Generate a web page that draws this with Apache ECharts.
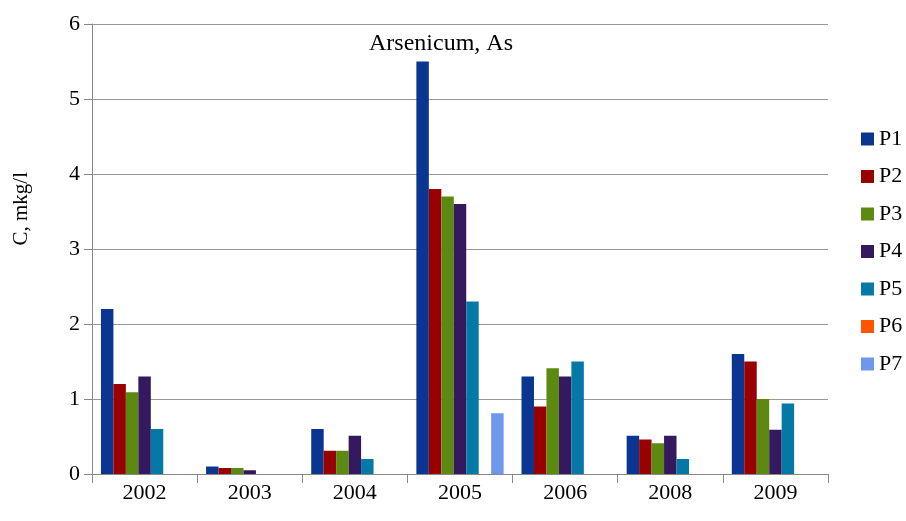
<!DOCTYPE html>
<html>
<head>
<meta charset="utf-8">
<script src="https://cdn.jsdelivr.net/npm/echarts@6/dist/echarts.min.js"></script>
<style>
  html, body { margin: 0; padding: 0; background: #fff; }
  #chart { width: 906px; height: 521px; }
</style>
</head>
<body>
<div id="chart"></div>
<script>
var years = ['2002', '2003', '2004', '2005', '2006', '2008', '2009'];
var seriesNames = ['P1', 'P2', 'P3', 'P4', 'P5', 'P6', 'P7'];
var yTicks = [0, 1, 2, 3, 4, 5, 6];

var p1 = [2.2, 0.1, 0.6, 5.5, 1.3, 0.51, 1.6];
var p2 = [1.2, 0.08, 0.31, 3.8, 0.9, 0.46, 1.5];
var p3 = [1.09, 0.08, 0.31, 3.7, 1.41, 0.41, 1.0];
var p4 = [1.3, 0.05, 0.51, 3.6, 1.3, 0.51, 0.59];
var p5 = [0.6, 0, 0.2, 2.3, 1.5, 0.2, 0.94];
var p6 = [0, 0, 0, 0, 0, 0, 0];
var p7 = [0, 0, 0, 0.81, 0, 0, 0];

var colors = ['#0a3591', '#990000', '#5c8a10', '#35195e', '#0579a5', '#ff5500', '#6f97ec'];
var allData = [p1, p2, p3, p4, p5, p6, p7];

var chart = echarts.init(document.getElementById('chart'));
var font = 'Liberation Serif, Times New Roman, serif';

var series = [];
for (var i = 0; i < seriesNames.length; i++) {
  series.push({
    name: seriesNames[i],
    type: 'bar',
    data: allData[i],
    barGap: '0%',
    barCategoryGap: '17%',
    itemStyle: { color: colors[i] }
  });
}

var option = {
  animation: false,
  color: colors,
  title: {
    text: 'Arsenicum, As',
    left: 436,
    top: 27,
    textAlign: 'center',
    textStyle: { fontFamily: font, fontSize: 24, fontWeight: 'normal', color: '#000', lineHeight: 24 }
  },
  legend: {
    orient: 'vertical',
    left: 856,
    top: 123,
    itemWidth: 13,
    itemHeight: 13,
    itemGap: 15.5,
    icon: 'rect',
    data: seriesNames,
    textStyle: { fontFamily: font, fontSize: 22, color: '#000', lineHeight: 22 }
  },
  grid: { left: 92, right: 78, top: 24, bottom: 47 },
  xAxis: {
    type: 'category',
    data: years,
    axisLine: { lineStyle: { color: '#888', width: 1 } },
    axisTick: { show: true, length: 9, lineStyle: { color: '#888' } },
    axisLabel: { fontFamily: font, fontSize: 22, color: '#000', margin: 8 }
  },
  yAxis: {
    type: 'value',
    min: yTicks[0],
    max: yTicks[yTicks.length - 1],
    interval: 1,
    axisLine: { show: true, lineStyle: { color: '#888', width: 1 } },
    axisTick: { show: true, length: 8, lineStyle: { color: '#888' } },
    axisLabel: { fontFamily: font, fontSize: 22, color: '#000', margin: 12 },
    splitLine: { lineStyle: { color: '#999', width: 1 } }
  },
  graphic: [{
    type: 'text',
    left: 11,
    top: 172,
    rotation: Math.PI / 2,
    style: { text: 'C, mkg/l', font: '21px ' + font, fill: '#000' }
  }],
  series: series
};

chart.setOption(option);
</script>
</body>
</html>
